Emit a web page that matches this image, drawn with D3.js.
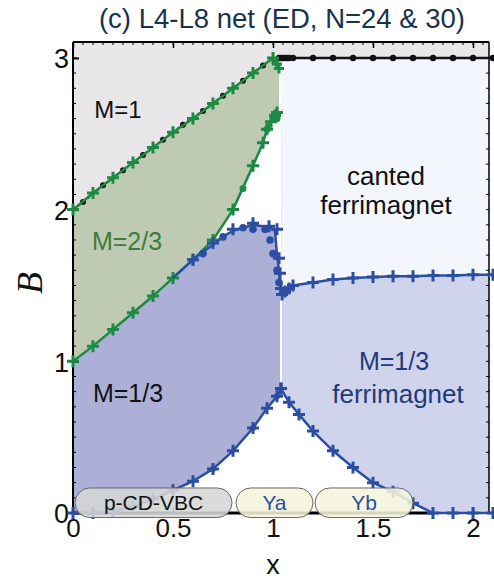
<!DOCTYPE html>
<html>
<head>
<meta charset="utf-8">
<script src="https://cdn.jsdelivr.net/npm/d3@7"></script>
<style>
  body { margin: 0; background: #fff; }
  svg text { font-family: "Liberation Sans", Arial, sans-serif; }
</style>
</head>
<body>
<svg id="chart" width="494" height="579"></svg>
<script>
// phase boundaries: [x, B]
var greenUpper = [[0,2.0],[0.1,2.11],[0.2,2.21],[0.3,2.31],[0.4,2.41],[0.5,2.51],[0.6,2.6],[0.7,2.7],[0.8,2.8],[0.9,2.9],[1.0,3.0]];
var greenTail = [[1.0,3.0],[1.02,2.96],[1.03,2.93]];
var greenLower = [[0,1.0],[0.1,1.1],[0.2,1.21],[0.3,1.32],[0.4,1.43],[0.5,1.55],[0.6,1.67],[0.7,1.8],[0.8,2.0],[0.9,2.29],[0.95,2.44],[0.97,2.53],[0.99,2.58],[1.01,2.62],[1.02,2.64]];
var greenLowerDots = [[0.85,2.14],[0.97,2.53],[1.02,2.6]];
var blueDome = [[0.5,1.55],[0.6,1.67],[0.65,1.72],[0.7,1.77],[0.76,1.83],[0.8,1.86],[0.85,1.88],[0.9,1.9],[0.95,1.89],[0.99,1.88],[1.01,1.86],[1.02,1.7],[1.03,1.6],[1.035,1.52],[1.045,1.44]];
var blueDomePlus = [[0.6,1.67],[0.7,1.78],[0.8,1.87],[0.9,1.91],[0.98,1.89],[1.02,1.87],[1.03,1.68],[1.035,1.58],[1.04,1.48]];
var blueDomeDots = [[0.65,1.71],[0.75,1.82],[0.85,1.88],[0.9,1.87],[0.96,1.87],[0.985,1.8],[1.0,1.71],[1.02,1.6],[1.03,1.52]];
var blueUpperRight = [[1.045,1.44],[1.06,1.46],[1.08,1.48],[1.1,1.5],[1.2,1.52],[1.3,1.54],[1.4,1.55],[1.5,1.555],[1.6,1.56],[1.7,1.56],[1.8,1.565],[1.9,1.565],[2.0,1.57],[2.1,1.57]];
var blueLowerLeft = [[0,0],[0.1,0],[0.2,0.01],[0.3,0.04],[0.4,0.09],[0.5,0.15],[0.6,0.21],[0.7,0.29],[0.8,0.41],[0.9,0.56],[0.97,0.69],[1.02,0.77],[1.04,0.82]];
var blueLowerRight = [[1.04,0.82],[1.08,0.73],[1.13,0.65],[1.2,0.54],[1.3,0.41],[1.4,0.3],[1.5,0.2],[1.6,0.14],[1.7,0.065],[1.8,0],[1.9,0],[2.0,0],[2.1,0]];
var blackTop = [[1.03,3],[1.04,3],[1.05,3],[1.06,3],[1.07,3],[1.08,3],[1.1,3],[1.2,3],[1.3,3],[1.4,3],[1.5,3],[1.6,3],[1.7,3],[1.8,3],[1.9,3],[2.0,3],[2.1,3]];
var blackDiag = [[0.05,2.05],[0.15,2.16],[0.25,2.26],[0.35,2.36],[0.45,2.46],[0.55,2.56],[0.65,2.65],[0.75,2.75],[0.85,2.85],[0.95,2.95]];

var xTicks = [0, 0.5, 1, 1.5, 2];
var xTickLabels = ["0", "0.5", "1", "1.5", "2"];
var yTicks = [0, 1, 2, 3];

var pills = [
  {label: "p-CD-VBC", x0: 0.01, x1: 0.795, fill: "#d6d6d6", color: "#111"},
  {label: "Ya", x0: 0.815, x1: 1.2, fill: "#f4f4dc", color: "#2a4fa0"},
  {label: "Yb", x0: 1.21, x1: 1.7, fill: "#f4f4dc", color: "#2a4fa0"}
];

var svg = d3.select("#chart");
var x = d3.scaleLinear().domain([0, 2.08]).range([73, 489]);
var y = d3.scaleLinear().domain([0, 3.105]).range([513, 42]);
var xMax = 2.08, yMax = 3.105;

var area = d3.line().x(function(d){ return x(d[0]); }).y(function(d){ return y(d[1]); });
var line = d3.line().x(function(d){ return x(d[0]); }).y(function(d){ return y(d[1]); }).curve(d3.curveLinear);

var green = "#1d8a43", blue = "#2b4ea3";

// background: M=1 region
svg.append("rect").attr("x", x(0)).attr("y", y(yMax)).attr("width", x(xMax) - x(0)).attr("height", y(0) - y(yMax)).attr("fill", "#e8e6e9");

// canted ferrimagnet
var canted = [[1.04, 3.0], [xMax, 3.0], [xMax, 1.57]].concat(blueUpperRight.slice().reverse().filter(function(d){ return d[0] <= xMax; }));
svg.append("path").attr("d", area(canted) + "Z").attr("fill", "#f3f6fc");

// white gap between green lower curve, dome and x=1.04
var gap = [[1.04, 3.0], [1.04, 1.44]].concat(blueDome.slice().reverse()).concat(greenLower.filter(function(d){ return d[0] >= 0.5; }));
svg.append("path").attr("d", area(gap) + "Z").attr("fill", "#ffffff");

// M=2/3
var m23 = greenUpper.concat([[1.03, 3.0], [1.03, 2.64]]).concat(greenLower.slice().reverse());
svg.append("path").attr("d", area(m23) + "Z").attr("fill", "#bfcab3");

// M=1/3 (dark)
var m13 = greenLower.filter(function(d){ return d[0] <= 0.5; }).concat(blueDome.slice(1)).concat([[1.04, 0.82]]).concat(blueLowerLeft.slice().reverse());
svg.append("path").attr("d", area(m13) + "Z").attr("fill", "#adb0d6");

// white triangle under lower curve
var tri = blueLowerLeft.concat(blueLowerRight.slice(1));
svg.append("path").attr("d", area(tri) + "Z").attr("fill", "#ffffff");

// M=1/3 ferrimagnet (light)
var m13f = blueUpperRight.filter(function(d){ return d[0] <= xMax; }).concat([[xMax, 1.57], [xMax, 0]]).concat(blueLowerRight.filter(function(d){ return d[0] <= xMax; }).slice().reverse());
svg.append("path").attr("d", area(m13f) + "Z").attr("fill", "#cfd3ec");

// white separator
svg.append("line").attr("x1", x(1.04)).attr("x2", x(1.04)).attr("y1", y(1.44)).attr("y2", y(0.82)).attr("stroke", "#fff").attr("stroke-width", 2);

// frame + ticks
var g = svg.append("g");
g.append("line").attr("x1", x(0)).attr("x2", x(xMax)).attr("y1", y(yMax)).attr("y2", y(yMax)).attr("stroke", "#000").attr("stroke-width", 2);
g.append("line").attr("x1", x(0)).attr("x2", x(0)).attr("y1", y(yMax)).attr("y2", y(0)).attr("stroke", "#000").attr("stroke-width", 2);
g.append("line").attr("x1", x(xMax)).attr("x2", x(xMax)).attr("y1", y(yMax)).attr("y2", y(0)).attr("stroke", "#000").attr("stroke-width", 1.5);
g.append("line").attr("x1", x(0)).attr("x2", x(xMax)).attr("y1", y(0)).attr("y2", y(0)).attr("stroke", "#000").attr("stroke-width", 1).attr("stroke-dasharray", "2,2");
g.append("line").attr("x1", x(0)).attr("x2", x(1.8)).attr("y1", y(0)).attr("y2", y(0)).attr("stroke", "#000").attr("stroke-width", 3);

var minorX = d3.range(0, 2.081, 0.05), minorY = d3.range(0, 3.1, 0.1);
g.selectAll(".mxt").data(minorX).enter().append("line").attr("x1", function(d){ return x(d); }).attr("x2", function(d){ return x(d); }).attr("y1", y(yMax)).attr("y2", y(yMax) + 3).attr("stroke", "#000").attr("stroke-width", 1);
g.selectAll(".myl").data(minorY).enter().append("line").attr("x1", x(0)).attr("x2", x(0) + 3).attr("y1", function(d){ return y(d); }).attr("y2", function(d){ return y(d); }).attr("stroke", "#000").attr("stroke-width", 1);
g.selectAll(".myr").data(minorY).enter().append("line").attr("x1", x(xMax)).attr("x2", x(xMax) - 3).attr("y1", function(d){ return y(d); }).attr("y2", function(d){ return y(d); }).attr("stroke", "#000").attr("stroke-width", 1);

var xAxis = svg.append("g").attr("transform", "translate(0," + y(0) + ")")
  .call(d3.axisBottom(x).tickValues(xTicks).tickFormat(function(d, i){ return xTickLabels[i]; }).tickSizeInner(-6).tickSizeOuter(0).tickPadding(6));
xAxis.select(".domain").remove();
xAxis.selectAll("text").attr("font-size", 26).attr("fill", "#111").attr("font-family", "Liberation Sans, Arial, sans-serif");
xAxis.selectAll("line").attr("stroke-width", 1.5);

var topAxis = svg.append("g").attr("transform", "translate(0," + y(yMax) + ")")
  .call(d3.axisTop(x).tickValues(xTicks).tickFormat("").tickSizeInner(-6).tickSizeOuter(0));
topAxis.select(".domain").remove();
topAxis.selectAll("line").attr("stroke-width", 1.5);

var yAxis = svg.append("g").attr("transform", "translate(" + x(0) + ",0)")
  .call(d3.axisLeft(y).tickValues(yTicks).tickFormat(d3.format("d")).tickSizeInner(-6).tickSizeOuter(0).tickPadding(4));
yAxis.select(".domain").remove();
yAxis.selectAll("text").attr("font-size", 27).attr("fill", "#111").attr("font-family", "Liberation Sans, Arial, sans-serif").attr("dy", "0.36em");
yAxis.selectAll("line").attr("stroke-width", 2);

// lines
function drawLine(data, color, width, dash) {
  var p = svg.append("path").attr("d", line(data)).attr("fill", "none").attr("stroke", color).attr("stroke-width", width);
  if (dash) p.attr("stroke-dasharray", dash);
}
function drawDots(data, color, r) {
  svg.append("g").selectAll("circle").data(data).enter().append("circle")
    .attr("cx", function(d){ return x(d[0]); }).attr("cy", function(d){ return y(d[1]); }).attr("r", r).attr("fill", color);
}
function drawPlus(data, color, s, w) {
  svg.append("g").selectAll("path").data(data).enter().append("path")
    .attr("d", function(d){ var cx = x(d[0]), cy = y(d[1]); return "M" + (cx - s) + "," + cy + "H" + (cx + s) + "M" + cx + "," + (cy - s) + "V" + (cy + s); })
    .attr("stroke", color).attr("stroke-width", w).attr("fill", "none");
}

// black M=1 boundary
drawLine([[0, 2]].concat(blackDiag).concat([[1.0, 3.0]]), "#111", 2, "3,3");
drawLine(blackTop, "#111", 2.5);
drawDots(blackDiag, "#111", 3);
drawDots(blackTop, "#111", 3.2);

// green
drawLine(greenUpper, green, 2.5);
drawLine(greenTail, green, 2.5);
drawLine(greenLower, green, 2.5);
drawPlus(greenUpper, green, 6, 3);
drawPlus(greenTail.slice(1), green, 5, 3);
drawPlus(greenLower, green, 6, 3);
drawDots(greenLowerDots, green, 3.5);

// blue
drawLine(blueDome, blue, 2.5);
drawLine(blueUpperRight, blue, 2.5);
drawLine(blueLowerLeft, blue, 2.5);
drawLine(blueLowerRight, blue, 2.5);
drawPlus(blueDomePlus, blue, 6, 3);
drawDots(blueDomeDots, blue, 3.8);
drawPlus(blueUpperRight, blue, 6, 3);
drawPlus(blueLowerLeft, blue, 6, 3);
drawPlus(blueLowerRight, blue, 6, 3);
drawDots(blueLowerLeft.filter(function(d, i){ return i % 2 === 1; }), blue, 3);

// pills
var pillG = svg.append("g");
pills.forEach(function(p) {
  var top = y(0.165), bot = y(-0.03), h = bot - top;
  pillG.append("rect").attr("x", x(p.x0)).attr("y", top).attr("width", x(p.x1) - x(p.x0)).attr("height", h)
    .attr("rx", h / 2).attr("ry", h / 2).attr("fill", p.fill).attr("fill-opacity", 0.88).attr("stroke", "#666").attr("stroke-width", 1);
  pillG.append("text").attr("x", (x(p.x0) + x(p.x1)) / 2).attr("y", top + h / 2 + 7.5).attr("text-anchor", "middle")
    .attr("font-size", 21).attr("fill", p.color).text(p.label);
});

// region labels
function label(tx, ty, txt, color, size) {
  svg.append("text").attr("x", tx).attr("y", ty).attr("text-anchor", "middle").attr("font-size", size).attr("fill", color).text(txt);
}
label(118, 118, "M=1", "#111", 24);
label(127, 250, "M=2/3", "#3b7d3b", 25);
label(128, 402, "M=1/3", "#111", 25);
label(386, 185, "canted", "#111", 26);
label(386, 214, "ferrimagnet", "#111", 26);
label(394, 370, "M=1/3", "#1f3a7a", 25);
label(398, 403, "ferrimagnet", "#1f3a7a", 26);

// title and axis labels
svg.append("text").attr("x", 282).attr("y", 28).attr("text-anchor", "middle").attr("font-size", 27.5).attr("fill", "#18334f").text("(c) L4-L8 net (ED, N=24 & 30)");
svg.append("text").attr("x", 273).attr("y", 574).attr("text-anchor", "middle").attr("font-size", 27).attr("fill", "#111").text("x");
svg.append("text").attr("transform", "translate(42,283) rotate(-90)").attr("text-anchor", "middle")
  .attr("font-size", 36).attr("font-style", "italic").attr("fill", "#111").style("font-family", "Liberation Serif, Times New Roman, serif").text("B");
</script>
</body>
</html>
